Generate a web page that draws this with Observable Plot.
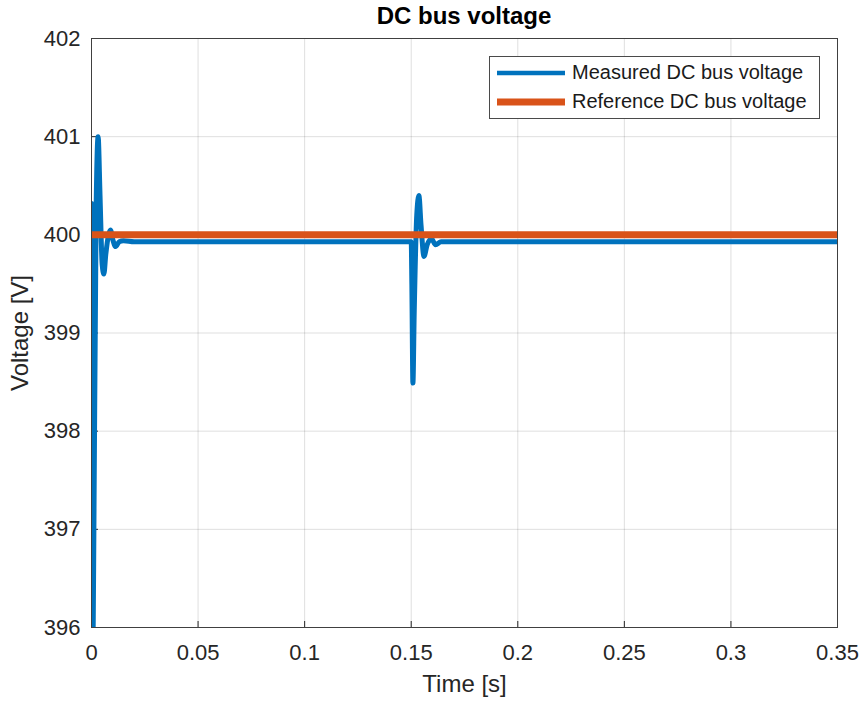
<!DOCTYPE html>
<html>
<head>
<meta charset="utf-8">
<script src="https://cdn.jsdelivr.net/npm/d3@7"></script>
<script src="https://cdn.jsdelivr.net/npm/@observablehq/plot@0.6"></script>
<style>
  html, body { margin: 0; padding: 0; background: #fff; }
  #wrap { position: relative; width: 864px; height: 704px; font-family: "Liberation Sans", Arial, Helvetica, sans-serif; }
  #title { position: absolute; left: 91px; width: 746px; top: 2px; text-align: center; font-weight: bold; font-size: 24px; color: #000; }
  #legend { position: absolute; left: 489px; top: 56px; width: 331px; height: 63px; background: #fff; border: 1px solid #4a4a4a; box-sizing: border-box; }
  .li { position: absolute; left: 7px; display: flex; align-items: center; font-size: 20px; color: #1a1a1a; white-space: nowrap; }
  .li svg { margin-right: 7px; }
  #chart g[aria-label="x-axis label"], #chart g[aria-label="y-axis label"] { font-size: 24px; }
</style>
</head>
<body>
<div id="wrap">
  <div id="chart"></div>
  <div id="title">DC bus voltage</div>
  <div id="legend"></div>
</div>
<script>
// ---- data ----
const seriesNames = ["Measured DC bus voltage", "Reference DC bus voltage"];
const seriesColors = ["#0072BD", "#D95319"];
const measuredTime = [0, 0.0004, 0.0010, 0.0022, 0.0031, 0.0040, 0.0050, 0.0058, 0.0067, 0.0080, 0.0089, 0.0100, 0.0113, 0.0130, 0.0150, 0.0200,
  0.1500, 0.1503, 0.1508, 0.1514, 0.1526, 0.1536, 0.1546, 0.1560, 0.1575, 0.1595, 0.1614, 0.1640, 0.3500];
const measuredVolt = [400.32, 395.2, 396.6, 400.3, 401.0, 400.4, 399.7, 399.6, 399.8, 400.0, 400.05, 399.95, 399.88, 399.93, 399.94, 399.93,
  399.93, 399.5, 398.49, 399.2, 400.2, 400.40, 400.1, 399.78, 399.9, 399.96, 399.9, 399.93, 399.93];
const referenceTime = [0, 0.35];
const referenceVolt = [400, 400];
const xTicks = [0, 0.05, 0.1, 0.15, 0.2, 0.25, 0.3, 0.35];
const yTicks = [396, 397, 398, 399, 400, 401, 402];

const measured = measuredTime.map((t, i) => ({t, v: measuredVolt[i]}));
const reference = referenceTime.map((t, i) => ({t, v: referenceVolt[i]}));

const chart = Plot.plot({
  width: 864,
  height: 704,
  marginLeft: 91,
  marginRight: 27,
  marginTop: 38,
  marginBottom: 77,
  style: {fontFamily: '"Liberation Sans", Arial, Helvetica, sans-serif', fontSize: "22px", color: "#262626", background: "#fff"},
  x: {domain: [0, 0.35], ticks: xTicks, tickFormat: d => String(+d.toFixed(2)), label: "Time [s]", labelAnchor: "center", labelArrow: "none", labelOffset: 64, tickSize: 0, tickPadding: 17},
  y: {domain: [396, 402], ticks: yTicks, tickFormat: d => String(d), label: "Voltage [V]", labelAnchor: "center", labelArrow: "none", labelOffset: 81, tickSize: 0, tickPadding: 11},
  marks: [
    Plot.gridX(xTicks, {stroke: "#000", strokeOpacity: 0.13}),
    Plot.gridY(yTicks, {stroke: "#000", strokeOpacity: 0.13}),
    Plot.tickX(xTicks, {x: d => d, stroke: "#262626", insetTop: 583, strokeWidth: 1}),
    Plot.tickY(yTicks, {y: d => d, stroke: "#262626", insetRight: 739, strokeWidth: 1}),
    Plot.line(measured, {x: "t", y: "v", stroke: seriesColors[0], strokeWidth: 5, curve: "monotone-x", clip: true, strokeLinejoin: "round"}),
    Plot.line(reference, {x: "t", y: "v", stroke: seriesColors[1], strokeWidth: 7, clip: true}),
    Plot.frame({stroke: "#404040", strokeWidth: 1})
  ]
});
document.getElementById("chart").appendChild(chart);

// legend
const lg = document.getElementById("legend");
seriesNames.forEach((name, i) => {
  const row = document.createElement("div");
  row.className = "li";
  row.style.top = (i === 0 ? 4 : 33) + "px";
  row.innerHTML = `<svg width="68" height="10"><line x1="0" x2="68" y1="5" y2="5" stroke="${seriesColors[i]}" stroke-width="${i === 0 ? 4.5 : 7}"/></svg><span>${name}</span>`;
  lg.appendChild(row);
});
</script>
</body>
</html>
